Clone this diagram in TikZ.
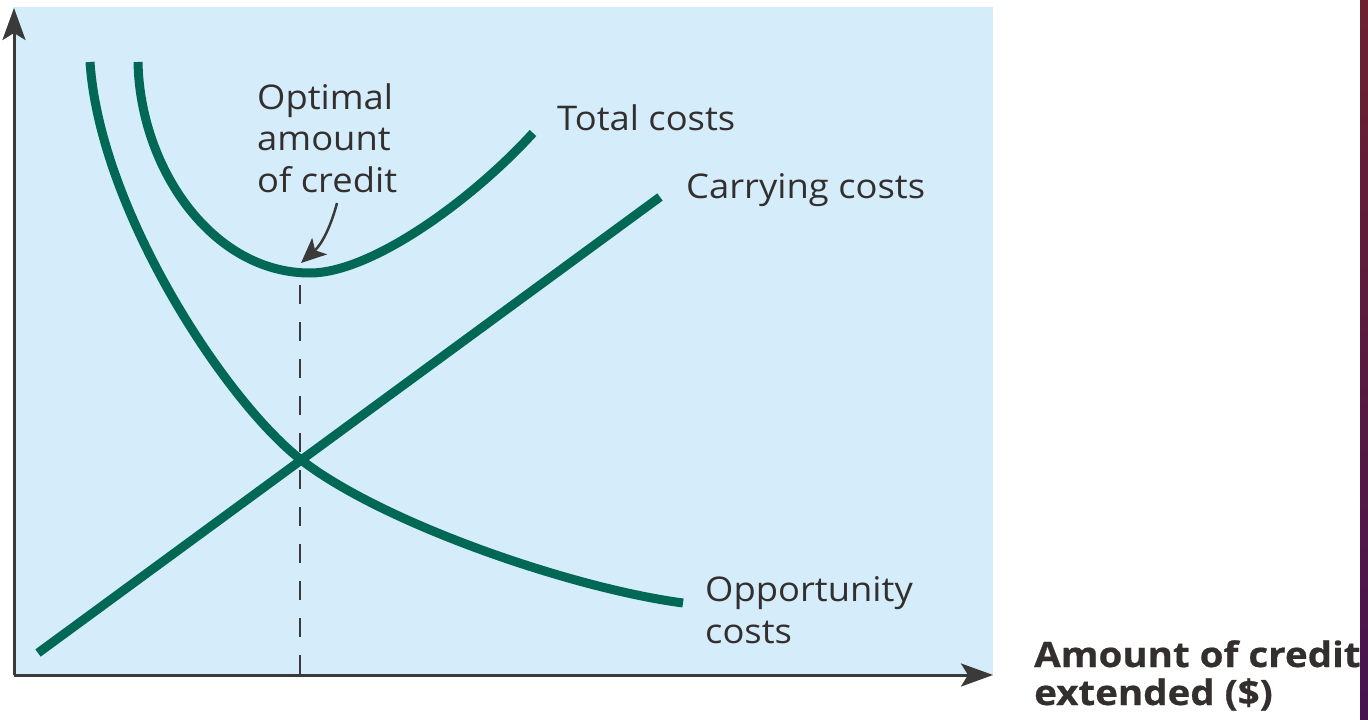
\documentclass[tikz,border=0pt]{standalone}
\usepackage{fontspec}
\setmainfont{Open Sans}
\newfontfamily\lblfont[FakeStretch=1.07]{Open Sans}
\newfontfamily\axfont[FakeStretch=1.1,FakeBold=0.6]{Open Sans Bold}
\usetikzlibrary{arrows.meta}
\definecolor{bgblue}{RGB}{213,237,250}
\definecolor{curvegreen}{RGB}{0,104,84}
\definecolor{axisgray}{RGB}{58,58,58}
\definecolor{txt}{RGB}{51,47,47}
\definecolor{stripA}{RGB}{110,32,48}
\definecolor{stripB}{RGB}{70,20,80}
\tikzset{
  curve/.style={draw=curvegreen, line width=9pt, line cap=butt},
  axisline/.style={draw=axisgray, line width=3pt, -{Stealth[length=32pt,width=23pt,inset=7pt]}},
  guide/.style={draw=axisgray, line width=2.5pt, dash pattern=on 19pt off 18pt},
  pointer/.style={draw=axisgray, line width=2.5pt, -{Stealth[length=25pt,width=22pt,inset=6pt]}},
  lbl/.style={text=txt, font=\lblfont\fontsize{34}{41.5}\selectfont, inner sep=0pt, align=left, anchor=base west},
  axislbl/.style={text=txt, font=\axfont\fontsize{35}{38}\selectfont, inner sep=0pt, align=left, anchor=base west},
}
\begin{document}
\begin{tikzpicture}[x=1pt,y=-1pt]
\useasboundingbox (0,0) rectangle (1368,720);
\fill[white] (0,0) rectangle (1368,720);
\fill[bgblue] (13,7) rectangle (993,675);
% axes
\coordinate (O) at (14,675);
\coordinate (ytip) at (14,8);
\coordinate (xtip) at (993,675);
\draw[axisline] (O) -- (ytip);
\draw[axisline] (O) -- (xtip);
% dashed optimum guide
\coordinate (gtop) at (300,285);
\coordinate (gbot) at (300,675);
\draw[guide] (gtop) -- (gbot);
% opportunity costs
\coordinate (o1) at (90,62);
\coordinate (ox) at (300,459);
\coordinate (o2) at (683,603);
\draw[curve] (o1) .. controls (100,210) and (225,400) .. (ox) .. controls (380,522) and (570,588) .. (o2);
% total costs
\coordinate (t1) at (138,62);
\coordinate (tmin) at (310,273);
\coordinate (t2) at (533,133);
\draw[curve] (t1) .. controls (140,168) and (212,273) .. (tmin) .. controls (372,273) and (473,199) .. (t2);
% carrying costs
\coordinate (c1) at (38,653);
\coordinate (c2) at (660,197);
\draw[curve] (c1) -- (c2);
% labels
\node[lbl] (opt) at (257,192) {Optimal\\amount\\of credit};
\coordinate (optmin) at (301,263);
\coordinate (arrstart) at (337,203);
\draw[pointer] (arrstart) .. controls (331,226) and (322,244) .. (optmin);
\node[lbl] (tot) at (557,130) {Total costs};
\node[lbl] (car) at (686,198) {Carrying costs};
\node[lbl] (opp) at (705,643) {Opportunity\\costs};
\node[axislbl] (xl) at (1034,705) {Amount of credit\\extended (\$)};
\shade[top color=stripA, bottom color=stripB] (1360,0) rectangle (1368,720);
\end{tikzpicture}
\end{document}
